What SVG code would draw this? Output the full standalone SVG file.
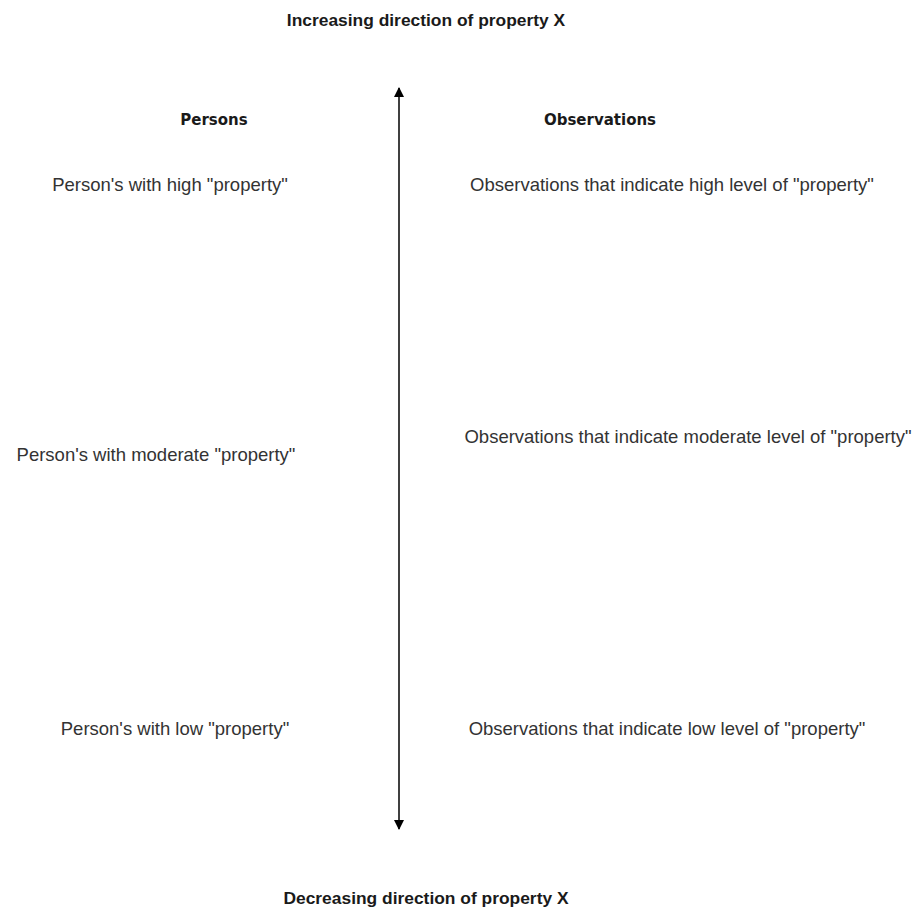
<svg xmlns="http://www.w3.org/2000/svg" width="918" height="915" viewBox="0 0 918 915">
  <style>
    .title { font-family: "Liberation Sans", Arial, sans-serif; font-size: 17.4px; font-weight: bold; fill: #1a1a1a; text-anchor: middle; }
    .head { font-family: "DejaVu Sans", "Liberation Sans", sans-serif; font-size: 15px; font-weight: bold; fill: #1a1a1a; text-anchor: middle; }
    .lbl { font-family: "Liberation Sans", Arial, sans-serif; font-size: 18.5px; fill: #333333; text-anchor: middle; }
    .axis { stroke: #000000; stroke-width: 1.5; fill: none; }
  </style>
  <defs>
    <marker id="head" viewBox="0 0 10 10" refX="9" refY="5" markerWidth="11" markerHeight="10" orient="auto-start-reverse" markerUnits="userSpaceOnUse">
      <path d="M0,0 L10,5 L0,10 Z" fill="#000000"/>
    </marker>
  </defs>
  <rect width="918" height="915" fill="#ffffff"/>

  <g id="connectors">
    <line class="axis" x1="399" y1="88" x2="399" y2="829" marker-start="url(#head)" marker-end="url(#head)"/>
  </g>

  <g id="title-increasing"><text class="title" x="426" y="26">Increasing direction of property X</text></g>
  <g id="title-decreasing"><text class="title" x="426" y="904">Decreasing direction of property X</text></g>

  <g id="head-persons"><text class="head" x="214" y="125">Persons</text></g>
  <g id="head-observations"><text class="head" x="600" y="125">Observations</text></g>

  <g id="person-high"><text class="lbl" x="170" y="191">Person's with high "property"</text></g>
  <g id="person-moderate"><text class="lbl" x="156" y="461">Person's with moderate "property"</text></g>
  <g id="person-low"><text class="lbl" x="175" y="735">Person's with low "property"</text></g>

  <g id="obs-high"><text class="lbl" x="672" y="191">Observations that indicate high level of "property"</text></g>
  <g id="obs-moderate"><text class="lbl" x="688" y="443">Observations that indicate moderate level of "property"</text></g>
  <g id="obs-low"><text class="lbl" x="667" y="735">Observations that indicate low level of "property"</text></g>
</svg>
